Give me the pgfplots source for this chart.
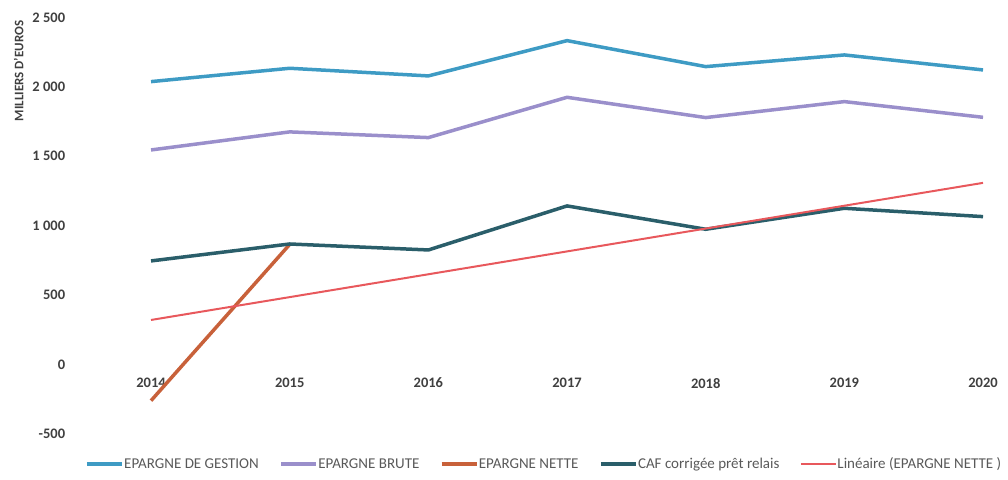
\documentclass[border=0pt]{standalone}
\usepackage{pgfplots}
\pgfplotsset{compat=1.18}
\usepackage{fontspec}
\setmainfont{Carlito}
\definecolor{cgest}{HTML}{3E9BC4}
\definecolor{cbrute}{HTML}{9A8FCB}
\definecolor{cnette}{HTML}{C8613A}
\definecolor{ccaf}{HTML}{2A5E6A}
\definecolor{clin}{HTML}{E8585C}
\definecolor{ctick}{HTML}{404040}
\definecolor{cleg}{HTML}{595959}
\begin{document}
\begin{tikzpicture}
\useasboundingbox (-81.7pt,-45pt) rectangle (926.3pt,434pt);
\begin{axis}[
  scale only axis,
  width=926.3pt, height=416.7pt,
  xmin=-0.5, xmax=6.18,
  ymin=-500, ymax=2500,
  axis x line=middle, axis y line=left,
  axis line style={draw=none},
  major tick length=0pt,
  xtick={0,1,2,3,4,5,6},
  xticklabels={2014,2015,2016,2017,2018,2019,2020},
  ytick={-500,0,500,1000,1500,2000,2500},
  /pgf/number format/assume math mode=true,
  /pgf/number format/1000 sep={\ },
  scaled y ticks=false,
  ticklabel style={font=\fontsize{14.5}{16}\selectfont\bfseries, text=ctick},
  xticklabel style={yshift=-10pt},
  yticklabel style={xshift=-13pt},
  legend columns=5,
  legend style={at={(0.0036,-0.072)}, anchor=west, draw=none, fill=none,
    inner sep=0pt, font=\fontsize{15}{17}\selectfont, text=cleg,
    nodes={inner sep=0.5pt},
    /tikz/every even column/.append style={column sep=20pt}},
  legend image code/.code={\draw[#1] (0pt,0pt) -- (35pt,0pt);},
  clip=false,
]
\addplot[cgest, line width=3.5pt] coordinates {(0,2037) (1,2133) (2,2078) (3,2332) (4,2145) (5,2229) (6,2121)};
\addlegendentry{EPARGNE DE GESTION}
\addplot[cbrute, line width=3.5pt] coordinates {(0,1545) (1,1675) (2,1634) (3,1924) (4,1778) (5,1893) (6,1780)};
\addlegendentry{EPARGNE BRUTE}
\addplot[cnette, line width=3.5pt] coordinates {(0,-260) (1,865)};
\addlegendentry{EPARGNE NETTE}
\addplot[ccaf, line width=3.5pt] coordinates {(0,746) (1,868) (2,825) (3,1142) (4,974) (5,1125) (6,1065)};
\addlegendentry{CAF corrigée prêt relais}
\addplot[clin, line width=2pt] coordinates {(0,321) (6,1308)};
\addlegendentry{Linéaire (EPARGNE NETTE )}
\end{axis}
\node[rotate=90, font=\fontsize{13}{15}\selectfont\bfseries, text=ctick] at (-63pt,363pt) {MILLIERS D'EUROS};
\end{tikzpicture}
\end{document}
